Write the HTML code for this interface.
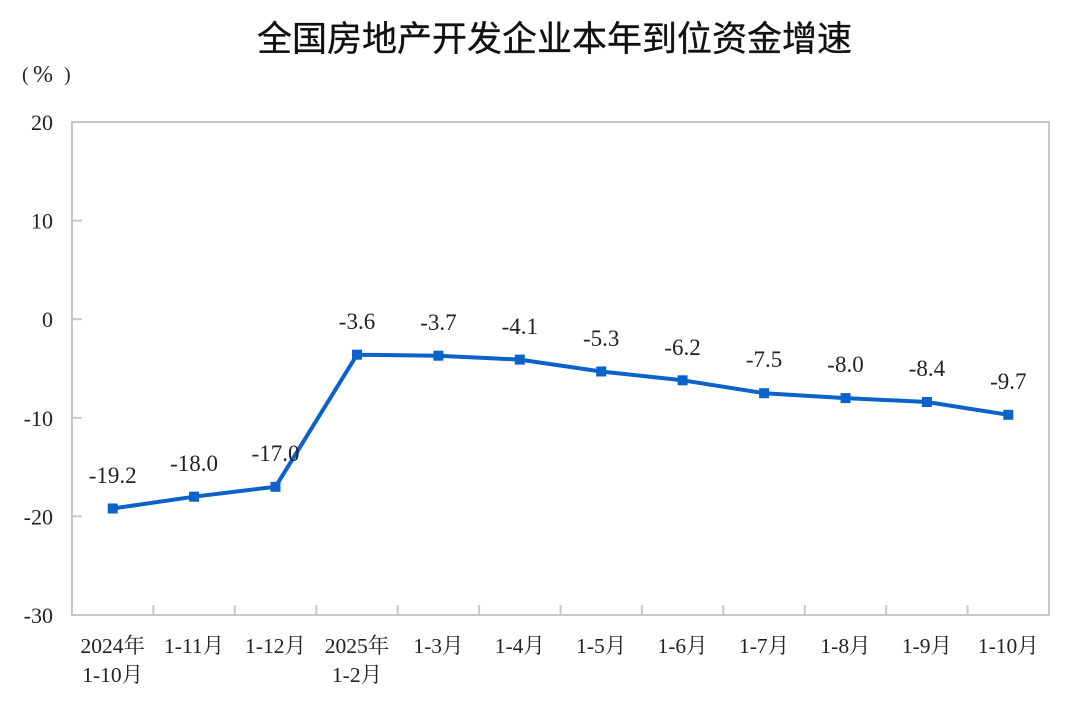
<!DOCTYPE html>
<html>
<head>
<meta charset="utf-8">
<style>
  html, body { margin:0; padding:0; background:#ffffff; }
  body { width:1080px; height:723px; overflow:hidden; }
  svg { display:block; }
  .serif { font-family: "Liberation Serif", "Noto Serif CJK SC", serif; fill:#222; }
  .title { font-family: "Liberation Sans", "Noto Sans CJK SC", sans-serif; fill:#111; }
</style>
</head>
<body>
<svg width="1080" height="723" viewBox="0 0 1080 723" xmlns="http://www.w3.org/2000/svg">
  <rect width="1080" height="723" fill="#ffffff"/>

  <!-- Title -->
  <text class="title" x="257" y="51" font-size="35" font-weight="normal" stroke="#111" stroke-width="0.35">全国房地产开发企业本年到位资金增速</text>

  <!-- Unit -->
  <g class="serif">
    <text x="22" y="81" font-size="20">(</text>
    <text x="33" y="82" font-size="24">%</text>
    <text x="64" y="81" font-size="20">)</text>
  </g>

  <!-- Plot frame -->
  <rect x="72" y="122" width="977" height="493" fill="none" stroke="#c8c8c8" stroke-width="2"/>

  <!-- Y ticks -->
  <g stroke="#c8c8c8" stroke-width="2">
    <line x1="72" y1="220.6" x2="82" y2="220.6"/>
    <line x1="72" y1="319.2" x2="82" y2="319.2"/>
    <line x1="72" y1="417.8" x2="82" y2="417.8"/>
    <line x1="72" y1="516.4" x2="82" y2="516.4"/>
  </g>

  <!-- X ticks -->
  <g stroke="#c8c8c8" stroke-width="2">
    <line x1="153.4" y1="615" x2="153.4" y2="605"/>
    <line x1="234.8" y1="615" x2="234.8" y2="605"/>
    <line x1="316.3" y1="615" x2="316.3" y2="605"/>
    <line x1="397.7" y1="615" x2="397.7" y2="605"/>
    <line x1="479.1" y1="615" x2="479.1" y2="605"/>
    <line x1="560.5" y1="615" x2="560.5" y2="605"/>
    <line x1="641.9" y1="615" x2="641.9" y2="605"/>
    <line x1="723.3" y1="615" x2="723.3" y2="605"/>
    <line x1="804.8" y1="615" x2="804.8" y2="605"/>
    <line x1="886.2" y1="615" x2="886.2" y2="605"/>
    <line x1="967.6" y1="615" x2="967.6" y2="605"/>
  </g>

  <!-- Y tick labels -->
  <g class="serif" font-size="22" text-anchor="end">
    <text x="53" y="130">20</text>
    <text x="53" y="228.6">10</text>
    <text x="53" y="327.2">0</text>
    <text x="53" y="425.8">-10</text>
    <text x="53" y="524.4">-20</text>
    <text x="53" y="623">-30</text>
  </g>

  <!-- X labels -->
  <g class="serif" font-size="21.5" text-anchor="middle">
    <text x="112.7" y="653">2024年</text>
    <text x="112.7" y="682">1-10月</text>
    <text x="194.1" y="653">1-11月</text>
    <text x="275.5" y="653">1-12月</text>
    <text x="357.0" y="653">2025年</text>
    <text x="357.0" y="682">1-2月</text>
    <text x="438.4" y="653">1-3月</text>
    <text x="519.8" y="653">1-4月</text>
    <text x="601.2" y="653">1-5月</text>
    <text x="682.6" y="653">1-6月</text>
    <text x="764.1" y="653">1-7月</text>
    <text x="845.5" y="653">1-8月</text>
    <text x="926.9" y="653">1-9月</text>
    <text x="1008.3" y="653">1-10月</text>
  </g>

  <!-- Series line -->
  <polyline fill="none" stroke="#0b63c9" stroke-width="4" stroke-linejoin="round"
    points="112.7,508.5 194.1,496.7 275.5,486.8 357.0,354.7 438.4,355.7 519.8,359.6 601.2,371.5 682.6,380.3 764.1,393.2 845.5,398.1 926.9,402.0 1008.3,414.8"/>

  <!-- Markers -->
  <g fill="#0b63c9">
    <rect x="107.7" y="503.5" width="10" height="10"/>
    <rect x="189.1" y="491.7" width="10" height="10"/>
    <rect x="270.5" y="481.8" width="10" height="10"/>
    <rect x="352.0" y="349.7" width="10" height="10"/>
    <rect x="433.4" y="350.7" width="10" height="10"/>
    <rect x="514.8" y="354.6" width="10" height="10"/>
    <rect x="596.2" y="366.5" width="10" height="10"/>
    <rect x="677.6" y="375.3" width="10" height="10"/>
    <rect x="759.1" y="388.2" width="10" height="10"/>
    <rect x="840.5" y="393.1" width="10" height="10"/>
    <rect x="921.9" y="397.0" width="10" height="10"/>
    <rect x="1003.3" y="409.8" width="10" height="10"/>
  </g>

  <!-- Data labels -->
  <g class="serif" font-size="23" text-anchor="middle">
    <text x="112.7" y="483">-19.2</text>
    <text x="194.1" y="471">-18.0</text>
    <text x="275.5" y="461">-17.0</text>
    <text x="357.0" y="329">-3.6</text>
    <text x="438.4" y="330">-3.7</text>
    <text x="519.8" y="334">-4.1</text>
    <text x="601.2" y="346">-5.3</text>
    <text x="682.6" y="355">-6.2</text>
    <text x="764.1" y="367">-7.5</text>
    <text x="845.5" y="372">-8.0</text>
    <text x="926.9" y="376">-8.4</text>
    <text x="1008.3" y="389">-9.7</text>
  </g>
</svg>
</body>
</html>
